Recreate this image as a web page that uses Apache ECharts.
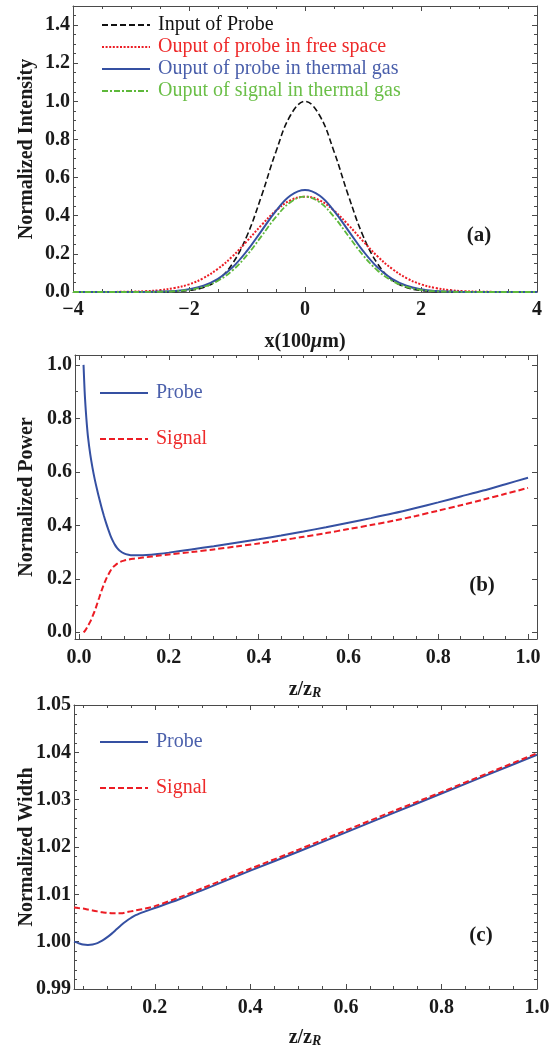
<!DOCTYPE html>
<html>
<head>
<meta charset="utf-8">
<script src="https://cdn.jsdelivr.net/npm/echarts@6/dist/echarts.min.js"></script>
<style>html,body{margin:0;padding:0;background:#fff}#c{width:550px;height:1055px}</style>
</head>
<body>
<div id="c"></div>
<script>
// ---------- Panel (a) data ----------
const xA = [-4, -3.5, -3, -2.75, -2.5, -2.25, -2, -1.75, -1.5, -1.25, -1, -0.75, -0.5, -0.25, 0, 0.25, 0.5, 0.75, 1, 1.25, 1.5, 1.75, 2, 2.25, 2.5, 2.75, 3, 3.5, 4];
const inputProbe = [0, 0, 0, 0.0001, 0.0005, 0.002, 0.008, 0.024, 0.064, 0.149, 0.295, 0.504, 0.737, 0.927, 1.0, 0.927, 0.737, 0.504, 0.295, 0.149, 0.064, 0.024, 0.008, 0.002, 0.0005, 0.0001, 0, 0, 0];
const probeFree = [0, 0.0002, 0.0017, 0.0043, 0.0098, 0.021, 0.040, 0.073, 0.122, 0.187, 0.267, 0.351, 0.427, 0.481, 0.5, 0.481, 0.427, 0.351, 0.267, 0.187, 0.122, 0.073, 0.040, 0.021, 0.0098, 0.0043, 0.0017, 0.0002, 0];
const probeGas = [0, 0, 0, 0.0005, 0.002, 0.005, 0.014, 0.033, 0.069, 0.129, 0.216, 0.321, 0.426, 0.506, 0.535, 0.506, 0.426, 0.321, 0.216, 0.129, 0.069, 0.033, 0.014, 0.005, 0.002, 0.0005, 0, 0, 0];
const signalGas = [0, 0, 0, 0.0003, 0.0013, 0.004, 0.011, 0.027, 0.059, 0.113, 0.193, 0.293, 0.394, 0.471, 0.5, 0.471, 0.394, 0.293, 0.193, 0.113, 0.059, 0.027, 0.011, 0.004, 0.0013, 0.0003, 0, 0, 0];
const namesA = ['Input of Probe', 'Ouput of probe in free space', 'Ouput of probe in thermal gas', 'Ouput of signal in thermal gas'];
const xTicksA = [-4, -2, 0, 2, 4];
const xMinorA = [-3.5, -3, -2.5, -1.5, -1, -0.5, 0.5, 1, 1.5, 2.5, 3, 3.5];
const yTicksA = [0, 0.2, 0.4, 0.6, 0.8, 1.0, 1.2, 1.4];
const yMinorA = [0.05, 0.1, 0.15, 0.25, 0.3, 0.35, 0.45, 0.5, 0.55, 0.65, 0.7, 0.75, 0.85, 0.9, 0.95, 1.05, 1.1, 1.15, 1.25, 1.3, 1.35, 1.45];

// ---------- Panel (b) data ----------
const zB = [0.01, 0.0125, 0.015, 0.0175, 0.02, 0.025, 0.03, 0.035, 0.04, 0.045, 0.05, 0.055, 0.06, 0.065, 0.07, 0.075, 0.08, 0.085, 0.09, 0.1, 0.11, 0.12, 0.135, 0.15, 0.175, 0.2, 0.25, 0.3, 0.35, 0.4, 0.45, 0.5, 0.55, 0.6, 0.65, 0.7, 0.75, 0.8, 0.85, 0.9, 0.95, 1.0];
const powerProbe = [1.0, 0.9, 0.83, 0.775, 0.73, 0.665, 0.615, 0.572, 0.535, 0.5, 0.468, 0.438, 0.41, 0.385, 0.362, 0.343, 0.327, 0.315, 0.306, 0.295, 0.29, 0.288, 0.288, 0.289, 0.293, 0.298, 0.31, 0.322, 0.335, 0.348, 0.362, 0.377, 0.393, 0.41, 0.427, 0.445, 0.465, 0.486, 0.508, 0.53, 0.554, 0.578];
const powerSignal = [0.0, 0.004, 0.01, 0.017, 0.025, 0.04, 0.06, 0.08, 0.105, 0.13, 0.155, 0.178, 0.198, 0.215, 0.23, 0.242, 0.25, 0.257, 0.262, 0.268, 0.272, 0.275, 0.278, 0.281, 0.286, 0.291, 0.3, 0.31, 0.321, 0.332, 0.344, 0.357, 0.371, 0.386, 0.401, 0.417, 0.435, 0.455, 0.475, 0.496, 0.518, 0.54];
const xTicksB = [0, 0.2, 0.4, 0.6, 0.8, 1.0];
const xMinorB = [0.05, 0.1, 0.15, 0.25, 0.3, 0.35, 0.45, 0.5, 0.55, 0.65, 0.7, 0.75, 0.85, 0.9, 0.95];
const yTicksB = [0, 0.2, 0.4, 0.6, 0.8, 1.0];
const yMinorB = [0.1, 0.3, 0.5, 0.7, 0.9];

// ---------- Panel (c) data ----------
const zC = [0.031, 0.04, 0.05, 0.06, 0.07, 0.08, 0.09, 0.1, 0.11, 0.12, 0.13, 0.14, 0.15, 0.16, 0.18, 0.2, 0.25, 0.3, 0.4, 0.5, 0.6, 0.7, 0.8, 0.9, 1.0];
const widthProbe = [1.0000, 0.9997, 0.9994, 0.9993, 0.9994, 0.9997, 1.0002, 1.0009, 1.0017, 1.0026, 1.0035, 1.0043, 1.0050, 1.0056, 1.0064, 1.0071, 1.0089, 1.0109, 1.0150, 1.0190, 1.0231, 1.0272, 1.0313, 1.0354, 1.0395];
const widthSignal = [1.0072, 1.0071, 1.0070, 1.0068, 1.0066, 1.0064, 1.0062, 1.0061, 1.0060, 1.0060, 1.0060, 1.0062, 1.0064, 1.0066, 1.0070, 1.0075, 1.0093, 1.0113, 1.0154, 1.0194, 1.0235, 1.0276, 1.0316, 1.0357, 1.0398];
const xTicksC = [0.2, 0.4, 0.6, 0.8, 1.0];
const xMinorC = [0.05, 0.1, 0.15, 0.25, 0.3, 0.35, 0.45, 0.5, 0.55, 0.65, 0.7, 0.75, 0.85, 0.9, 0.95];
const yTicksC = [0.99, 1.00, 1.01, 1.02, 1.03, 1.04, 1.05];
const yMinorC = [0.992, 0.994, 0.996, 0.998, 1.002, 1.004, 1.006, 1.008, 1.012, 1.014, 1.016, 1.018, 1.022, 1.024, 1.026, 1.028, 1.032, 1.034, 1.036, 1.038, 1.042, 1.044, 1.046, 1.048];

// ---------- styles ----------
const FONT = 'Liberation Serif';
const FRAME = '#4a4a4a';
const C_BLACK = '#111111', C_RED = '#ec1c24', C_BLUE = '#3550a2', C_GREEN = '#5db83a';
const T_RED = '#ee2a2a', T_BLUE = '#4a5fab', T_GREEN = '#6bbf48';

function axesFor(kind, grid, min, max, major, minor, fmt, margin) {
  const isX = kind === 'x';
  const pos1 = isX ? 'bottom' : 'left', pos2 = isX ? 'top' : 'right';
  const base = { type: 'value', gridIndex: grid, min: min, max: max, splitLine: { show: false } };
  const line = { show: true, onZero: false, lineStyle: { color: FRAME, width: 1 } };
  const noLine = { show: false, onZero: false };
  return [
    Object.assign({}, base, { position: pos1, axisLine: line,
      axisTick: { show: true, inside: true, length: 5, customValues: major, lineStyle: { color: FRAME } },
      axisLabel: { show: true, customValues: major, formatter: fmt, margin: margin, color: '#1a1a1a', fontFamily: FONT, fontWeight: 'bold', fontSize: 20 } }),
    Object.assign({}, base, { position: pos1, axisLine: noLine,
      axisTick: { show: true, inside: true, length: 3, customValues: minor, lineStyle: { color: FRAME } },
      axisLabel: { show: false } }),
    Object.assign({}, base, { position: pos2, axisLine: line,
      axisTick: { show: true, inside: true, length: 5, customValues: major, lineStyle: { color: FRAME } },
      axisLabel: { show: false } }),
    Object.assign({}, base, { position: pos2, axisLine: noLine,
      axisTick: { show: true, inside: true, length: 3, customValues: minor, lineStyle: { color: FRAME } },
      axisLabel: { show: false } })
  ];
}

const fmtA = v => (v < 0 ? '\u2212' + Math.abs(v) : String(v));
const fmt1 = v => v.toFixed(1);
const fmt2 = v => v.toFixed(2);

const xAxes = [].concat(
  axesFor('x', 0, -4, 4, xTicksA, xMinorA, fmtA, 8),
  axesFor('x', 1, -0.009, 1.02, xTicksB, xMinorB, fmt1, 9),
  axesFor('x', 2, 0.031, 1.0, xTicksC, xMinorC, fmt1, 9)
);
const yAxes = [].concat(
  axesFor('y', 0, 0, 1.5, yTicksA, yMinorA, fmt1, 3),
  axesFor('y', 1, -0.025, 1.037, yTicksB, yMinorB, fmt1, 3),
  axesFor('y', 2, 0.99, 1.05, yTicksC, yMinorC, fmt2, 3)
);

function pairs(xs, ys) { return xs.map((x, i) => [x, ys[i]]); }
function lineSeries(name, xi, yi, xs, ys, color, width, type, smooth) {
  return { name: name, type: 'line', xAxisIndex: xi, yAxisIndex: yi, data: pairs(xs, ys),
    showSymbol: false, symbol: 'none', smooth: smooth, animation: false,
    lineStyle: { color: color, width: width, type: type }, itemStyle: { color: color } };
}

const series = [
  lineSeries(namesA[0], 0, 0, xA, inputProbe, C_BLACK, 1.6, [6, 3], 0.4),
  lineSeries(namesA[1], 0, 0, xA, probeFree, C_RED, 2, [2, 1.6], 0.4),
  lineSeries(namesA[2], 0, 0, xA, probeGas, C_BLUE, 2, 'solid', 0.4),
  lineSeries(namesA[3], 0, 0, xA, signalGas, C_GREEN, 1.8, [6, 2, 2, 2], 0.4),
  lineSeries('Probe', 4, 4, zB, powerProbe, C_BLUE, 2, 'solid', 0.3),
  lineSeries('Signal', 4, 4, zB, powerSignal, C_RED, 2, [6, 3], 0.3),
  lineSeries('Probe', 8, 8, zC, widthProbe, C_BLUE, 2, 'solid', 0.3),
  lineSeries('Signal', 8, 8, zC, widthSignal, C_RED, 2, [6, 3], 0.3)
];

const legText = { fontFamily: FONT, fontSize: 20, padding: [0, 0, 0, 3] };
const legItem = { color: 'rgba(0,0,0,0)', borderColor: 'rgba(0,0,0,0)', borderWidth: 0 };
const legends = [
  { left: 96, top: 10, orient: 'vertical', itemWidth: 48, itemHeight: 14, itemGap: 2, selectedMode: false,
    textStyle: legText, itemStyle: legItem,
    data: [
      { name: namesA[0], textStyle: { color: '#111' } },
      { name: namesA[1], textStyle: { color: T_RED } },
      { name: namesA[2], textStyle: { color: T_BLUE } },
      { name: namesA[3], textStyle: { color: T_GREEN } }
    ] },
  { left: 94, top: 378, orient: 'vertical', itemWidth: 48, itemHeight: 14, itemGap: 26, selectedMode: false,
    textStyle: legText, itemStyle: legItem,
    data: [ { name: 'Probe', textStyle: { color: T_BLUE } }, { name: 'Signal', textStyle: { color: T_RED } } ] },
  { left: 94, top: 727, orient: 'vertical', itemWidth: 48, itemHeight: 14, itemGap: 26, selectedMode: false,
    textStyle: legText, itemStyle: legItem,
    data: [ { name: 'Probe', textStyle: { color: T_BLUE } }, { name: 'Signal', textStyle: { color: T_RED } } ] }
];

const titleFont = 'bold 20px "' + FONT + '"';
function vTitle(text, x, y) {
  return { type: 'text', x: x, y: y, rotation: Math.PI / 2, silent: true,
    style: { text: text, font: titleFont, fill: '#1a1a1a', align: 'center', verticalAlign: 'middle' } };
}
function panelLabel(text, x, y) {
  return { type: 'text', x: x, y: y, silent: true,
    style: { text: text, font: 'bold 21px "' + FONT + '"', fill: '#1a1a1a', align: 'center', verticalAlign: 'middle' } };
}
const richZ = {
  a: { fontFamily: FONT, fontWeight: 'bold', fontSize: 20, lineHeight: 20, fill: '#1a1a1a', verticalAlign: 'middle' },
  b: { fontFamily: FONT, fontWeight: 'bold', fontStyle: 'italic', fontSize: 14, lineHeight: 10, fill: '#1a1a1a', verticalAlign: 'bottom' }
};
function zTitle(x, y) {
  return { type: 'text', x: x, y: y, silent: true,
    style: { text: '{a|z/z}{b|R}', rich: richZ, align: 'center', verticalAlign: 'middle' } };
}

const graphic = [
  vTitle('Normalized Intensity', 27, 149),
  vTitle('Normalized Power', 27, 497),
  vTitle('Normalized Width', 27, 847),
  { type: 'text', x: 305, y: 342, silent: true,
    style: { text: '{a|x(100}{i|\u03bc}{a|m)}', align: 'center', verticalAlign: 'middle',
      rich: { a: { fontFamily: FONT, fontWeight: 'bold', fontSize: 20, fill: '#1a1a1a' },
              i: { fontFamily: FONT, fontWeight: 'bold', fontStyle: 'italic', fontSize: 20, fill: '#1a1a1a' } } } },
  zTitle(305, 690),
  zTitle(305, 1038),
  panelLabel('(a)', 479, 236),
  panelLabel('(b)', 482, 586),
  panelLabel('(c)', 481, 936)
];

const chart = echarts.init(document.getElementById('c'), null, { renderer: 'canvas' });
chart.setOption({
  animation: false,
  backgroundColor: '#ffffff',
  grid: [
    { left: 73, top: 6, right: 13, height: 286, containLabel: false, outerBoundsMode: 'none' },
    { left: 75, top: 355, right: 13, height: 284, containLabel: false, outerBoundsMode: 'none' },
    { left: 74, top: 705, right: 13, height: 284, containLabel: false, outerBoundsMode: 'none' }
  ],
  xAxis: xAxes,
  yAxis: yAxes,
  legend: legends,
  series: series,
  graphic: graphic
});
</script>
</body>
</html>
